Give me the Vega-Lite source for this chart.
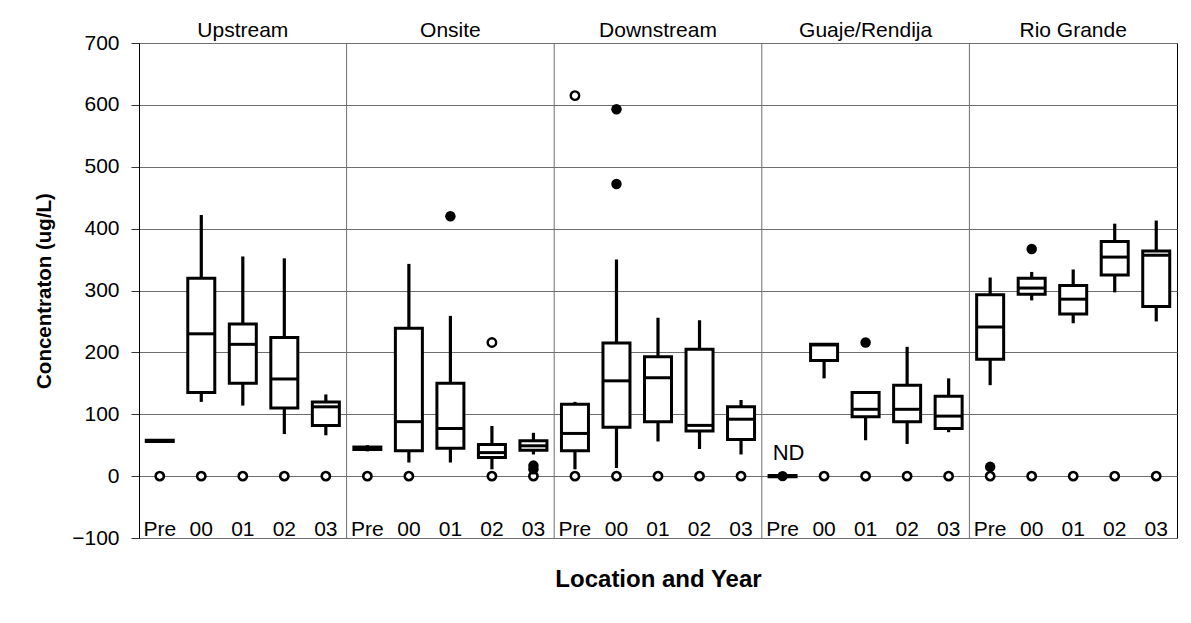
{
  "$schema": "https://vega.github.io/schema/vega-lite/v6.json",
  "width": 1038,
  "height": 495,
  "autosize": {"type": "none"},
  "padding": {"left": 139, "top": 43, "right": 14, "bottom": 85},
  "background": "white",
  "config": {
    "view": {"stroke": "#000000", "strokeWidth": 1},
    "font": "Liberation Sans",
    "axis": {"labelFont": "Liberation Sans", "titleFont": "Liberation Sans"}
  },
  "datasets": {
    "boxes": [
      {"cat": "Upstream|Pre", "min": 56, "q1": 56, "median": 57, "q3": 58, "max": 58},
      {"cat": "Upstream|00", "min": 120, "q1": 135, "median": 230, "q3": 320, "max": 422},
      {"cat": "Upstream|01", "min": 114, "q1": 150, "median": 213, "q3": 246, "max": 355},
      {"cat": "Upstream|02", "min": 68, "q1": 110, "median": 157, "q3": 224, "max": 352},
      {"cat": "Upstream|03", "min": 66, "q1": 82, "median": 112, "q3": 120, "max": 132},
      {"cat": "Onsite|Pre", "min": 40, "q1": 43, "median": 45, "q3": 47, "max": 50},
      {"cat": "Onsite|00", "min": 22, "q1": 41, "median": 88, "q3": 239, "max": 343},
      {"cat": "Onsite|01", "min": 22, "q1": 45, "median": 77, "q3": 150, "max": 259},
      {"cat": "Onsite|02", "min": 11, "q1": 30, "median": 38, "q3": 51, "max": 81},
      {"cat": "Onsite|03", "min": 35, "q1": 42, "median": 49, "q3": 57, "max": 70},
      {"cat": "Downstream|Pre", "min": 11, "q1": 41, "median": 69, "q3": 116, "max": 120},
      {"cat": "Downstream|00", "min": 13, "q1": 79, "median": 154, "q3": 215, "max": 350},
      {"cat": "Downstream|01", "min": 56, "q1": 88, "median": 159, "q3": 193, "max": 256},
      {"cat": "Downstream|02", "min": 44, "q1": 73, "median": 82, "q3": 205, "max": 252},
      {"cat": "Downstream|03", "min": 35, "q1": 59, "median": 92, "q3": 112, "max": 123},
      {"cat": "Guaje/Rendija|Pre", "min": 0, "q1": -1, "median": 0, "q3": 1, "max": 0},
      {"cat": "Guaje/Rendija|00", "min": 158, "q1": 187, "median": 212, "q3": 213, "max": 213},
      {"cat": "Guaje/Rendija|01", "min": 58, "q1": 96, "median": 108, "q3": 135, "max": 135},
      {"cat": "Guaje/Rendija|02", "min": 52, "q1": 88, "median": 108, "q3": 147, "max": 209},
      {"cat": "Guaje/Rendija|03", "min": 71, "q1": 77, "median": 97, "q3": 129, "max": 158},
      {"cat": "Rio Grande|Pre", "min": 147, "q1": 189, "median": 241, "q3": 293, "max": 321},
      {"cat": "Rio Grande|00", "min": 284, "q1": 294, "median": 304, "q3": 320, "max": 330},
      {"cat": "Rio Grande|01", "min": 247, "q1": 262, "median": 286, "q3": 308, "max": 334},
      {"cat": "Rio Grande|02", "min": 297, "q1": 325, "median": 354, "q3": 379, "max": 408},
      {"cat": "Rio Grande|03", "min": 250, "q1": 274, "median": 357, "q3": 364, "max": 413}
    ],
    "zeros": [
      {"cat": "Upstream|Pre", "value": 0}, {"cat": "Upstream|00", "value": 0}, {"cat": "Upstream|01", "value": 0},
      {"cat": "Upstream|02", "value": 0}, {"cat": "Upstream|03", "value": 0},
      {"cat": "Onsite|Pre", "value": 0}, {"cat": "Onsite|00", "value": 0},
      {"cat": "Onsite|02", "value": 0}, {"cat": "Onsite|03", "value": 0},
      {"cat": "Downstream|Pre", "value": 0}, {"cat": "Downstream|00", "value": 0}, {"cat": "Downstream|01", "value": 0},
      {"cat": "Downstream|02", "value": 0}, {"cat": "Downstream|03", "value": 0},
      {"cat": "Guaje/Rendija|00", "value": 0}, {"cat": "Guaje/Rendija|01", "value": 0},
      {"cat": "Guaje/Rendija|02", "value": 0}, {"cat": "Guaje/Rendija|03", "value": 0},
      {"cat": "Rio Grande|Pre", "value": 0}, {"cat": "Rio Grande|00", "value": 0}, {"cat": "Rio Grande|01", "value": 0},
      {"cat": "Rio Grande|02", "value": 0}, {"cat": "Rio Grande|03", "value": 0}
    ],
    "openOutliers": [
      {"cat": "Downstream|Pre", "value": 615},
      {"cat": "Onsite|02", "value": 216}
    ],
    "filledOutliers": [
      {"cat": "Onsite|01", "value": 420},
      {"cat": "Onsite|03", "value": 17},
      {"cat": "Onsite|03", "value": 11},
      {"cat": "Downstream|00", "value": 593},
      {"cat": "Downstream|00", "value": 472},
      {"cat": "Guaje/Rendija|Pre", "value": 0},
      {"cat": "Guaje/Rendija|01", "value": 216},
      {"cat": "Rio Grande|Pre", "value": 15},
      {"cat": "Rio Grande|00", "value": 367}
    ],
    "separators": [
      {"cat": "Onsite|Pre"}, {"cat": "Downstream|Pre"}, {"cat": "Guaje/Rendija|Pre"}, {"cat": "Rio Grande|Pre"}
    ],
    "notes": [
      {"cat": "Guaje/Rendija|Pre", "value": 0, "label": "ND"}
    ]
  },
  "resolve": {"axis": {"x": "independent"}},
  "layer": [
    {
      "data": {"name": "separators"},
      "mark": {"type": "rule", "color": "#6e6e6e", "strokeWidth": 1},
      "encoding": {
        "x": {
          "field": "cat", "type": "nominal", "bandPosition": 0,
          "scale": {
            "domain": ["Upstream|Pre", "Upstream|00", "Upstream|01", "Upstream|02", "Upstream|03",
                       "Onsite|Pre", "Onsite|00", "Onsite|01", "Onsite|02", "Onsite|03",
                       "Downstream|Pre", "Downstream|00", "Downstream|01", "Downstream|02", "Downstream|03",
                       "Guaje/Rendija|Pre", "Guaje/Rendija|00", "Guaje/Rendija|01", "Guaje/Rendija|02", "Guaje/Rendija|03",
                       "Rio Grande|Pre", "Rio Grande|00", "Rio Grande|01", "Rio Grande|02", "Rio Grande|03"],
            "paddingInner": 0, "paddingOuter": 0
          },
          "axis": null
        }
      }
    },
    {
      "data": {"name": "boxes"},
      "mark": {"type": "rule", "color": "#000000", "strokeWidth": 3.2, "opacity": 1},
      "encoding": {
        "x": {"field": "cat", "type": "nominal", "axis": null},
        "y": {
          "field": "min", "type": "quantitative",
          "scale": {"domain": [-100, 700], "nice": false, "zero": false},
          "axis": {
            "values": [-100, 0, 100, 200, 300, 400, 500, 600, 700],
            "title": "Concentraton (ug/L)",
            "titleFontSize": 20.5,
            "titleFontWeight": "bold",
            "titleColor": "#000000",
            "titlePadding": 17,
            "labelFontSize": 21,
            "labelColor": "#000000",
            "labelPadding": 12,
            "tickSize": 8,
            "tickColor": "#333333",
            "domainColor": "#000000",
            "gridColor": "#6e6e6e",
            "gridOpacity": 1,
            "grid": true
          }
        },
        "y2": {"field": "max"}
      }
    },
    {
      "data": {"name": "boxes"},
      "mark": {"type": "bar", "fill": "#ffffff", "stroke": "#000000", "strokeWidth": 3, "size": 27, "opacity": 1},
      "encoding": {
        "x": {
          "field": "cat", "type": "nominal",
          "axis": {
            "orient": "bottom",
            "title": "Location and Year",
            "titleFontSize": 24,
            "titleFontWeight": "bold",
            "titleColor": "#000000",
            "titlePadding": 28,
            "labelExpr": "split(datum.value, '|')[1]",
            "labelAngle": 0,
            "labelFontSize": 21,
            "labelColor": "#000000",
            "labelBaseline": "alphabetic",
            "labelPadding": -3,
            "ticks": false,
            "tickSize": 0,
            "domain": false,
            "grid": false
          }
        },
        "y": {"field": "q1", "type": "quantitative"},
        "y2": {"field": "q3"}
      }
    },
    {
      "data": {"name": "boxes"},
      "mark": {"type": "tick", "color": "#000000", "thickness": 3, "size": 27, "opacity": 1},
      "encoding": {
        "x": {"field": "cat", "type": "nominal", "axis": null},
        "y": {"field": "median", "type": "quantitative"}
      }
    },
    {
      "data": {"name": "zeros"},
      "mark": {"type": "point", "filled": false, "fill": "#ffffff", "stroke": "#000000", "strokeWidth": 2.6, "size": 68, "opacity": 1},
      "encoding": {
        "x": {
          "field": "cat", "type": "nominal",
          "axis": {
            "orient": "top",
            "title": null,
            "labelExpr": "split(datum.value, '|')[1] == '01' ? split(datum.value, '|')[0] : ''",
            "labelAngle": 0,
            "labelFontSize": 21,
            "labelColor": "#000000",
            "labelBaseline": "alphabetic",
            "labelPadding": 7,
            "labelOverlap": false,
            "ticks": false,
            "tickSize": 0,
            "domain": false,
            "grid": false
          }
        },
        "y": {"field": "value", "type": "quantitative"}
      }
    },
    {
      "data": {"name": "openOutliers"},
      "mark": {"type": "point", "filled": false, "fill": "#ffffff", "stroke": "#000000", "strokeWidth": 2.4, "size": 72, "opacity": 1},
      "encoding": {
        "x": {"field": "cat", "type": "nominal", "axis": null},
        "y": {"field": "value", "type": "quantitative"}
      }
    },
    {
      "data": {"name": "filledOutliers"},
      "mark": {"type": "point", "filled": true, "color": "#000000", "size": 110, "opacity": 1},
      "encoding": {
        "x": {"field": "cat", "type": "nominal", "axis": null},
        "y": {"field": "value", "type": "quantitative"}
      }
    },
    {
      "data": {"name": "notes"},
      "mark": {"type": "text", "fontSize": 22, "color": "#000000", "dx": 6, "dy": -16, "baseline": "alphabetic", "align": "center"},
      "encoding": {
        "x": {"field": "cat", "type": "nominal", "axis": null},
        "y": {"field": "value", "type": "quantitative"},
        "text": {"field": "label"}
      }
    }
  ]
}
